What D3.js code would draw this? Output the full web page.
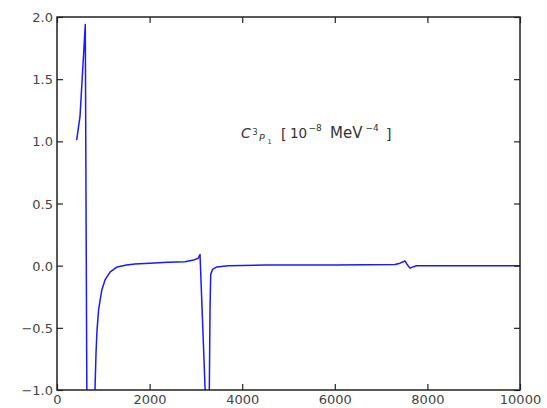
<!DOCTYPE html>
<html>
<head>
<meta charset="utf-8">
<script src="https://cdn.jsdelivr.net/npm/d3@7"></script>
<style>
  html, body { margin: 0; padding: 0; background: #fff; }
  svg { display: block; }
  text { font-family: "DejaVu Sans", sans-serif; }
</style>
</head>
<body>
<svg id="chart" width="547" height="408"></svg>
<script>
// ---- data ----
const energies = [425, 497, 611, 650, 700, 790, 820, 843, 864, 900, 965, 1037, 1150, 1300, 1500, 1685,
  2000, 2400, 2765, 2950, 3050, 3089, 3200, 3240, 3280, 3290, 3305, 3320, 3360, 3450, 3700, 4500,
  6000, 7300, 7408, 7516, 7570, 7624, 7700, 7768, 8500, 10000];
const values = [1.01, 1.2, 1.94, -1.5, -3.0, -1.5, -1.0, -0.7, -0.52, -0.35, -0.2, -0.115, -0.05, -0.01, 0.005, 0.014,
  0.02, 0.027, 0.032, 0.045, 0.06, 0.09, -1.0, -3.0, -3.0, -1.0, -0.35, -0.07, -0.03, -0.01, 0.0, 0.005,
  0.005, 0.01, 0.02, 0.038, 0.005, -0.02, -0.008, 0.0, 0.0, 0.0];
const xTicks = [0, 2000, 4000, 6000, 8000, 10000];
const yTicks = [-1.0, -0.5, 0.0, 0.5, 1.0, 1.5, 2.0];

// ---- layout ----
const svg = d3.select("#chart");
const pL = 57, pR = 520, pT = 17, pB = 390;
const x = d3.scaleLinear().domain([0, 10000]).range([pL, pR]);
const y = d3.scaleLinear().domain([-1, 2]).range([pB, pT]);

svg.append("defs").append("clipPath").attr("id", "clip")
  .append("rect").attr("x", pL).attr("y", pT)
  .attr("width", pR - pL).attr("height", pB - pT);

// line
const pts = energies.map((e, i) => [e, values[i]]);
svg.append("path")
  .datum(pts)
  .attr("clip-path", "url(#clip)")
  .attr("fill", "none")
  .attr("stroke", "#1a1aff")
  .attr("stroke-width", 1.5)
  .attr("stroke-linejoin", "round")
  .attr("d", d3.line().x(d => x(d[0])).y(d => y(d[1])));

// axes (ticks inward on all sides, matplotlib classic)
const tickLen = 6;
const fmtY = d3.format(".1f");
const axisColor = "#222";

const gB = svg.append("g").attr("transform", `translate(0,${pB})`)
  .call(d3.axisBottom(x).tickValues(xTicks).tickSizeInner(-tickLen).tickSizeOuter(0).tickPadding(9).tickFormat(d3.format("d")));
const gT = svg.append("g").attr("transform", `translate(0,${pT})`)
  .call(d3.axisTop(x).tickValues(xTicks).tickSizeInner(-tickLen).tickSizeOuter(0).tickFormat(""));
const gL = svg.append("g").attr("transform", `translate(${pL},0)`)
  .call(d3.axisLeft(y).tickValues(yTicks).tickSizeInner(-tickLen).tickSizeOuter(0).tickPadding(4).tickFormat(fmtY));
const gR = svg.append("g").attr("transform", `translate(${pR},0)`)
  .call(d3.axisRight(y).tickValues(yTicks).tickSizeInner(-tickLen).tickSizeOuter(0).tickFormat(""));

[gB, gT, gL, gR].forEach(g => {
  g.select(".domain").remove();
  g.selectAll(".tick line").attr("stroke", axisColor).attr("stroke-width", 1.2);
  g.selectAll(".tick text").attr("fill", "#444").attr("font-size", 13)
    .attr("font-family", "DejaVu Sans, sans-serif");
});
gB.selectAll(".tick text").attr("dy", null).attr("y", 0).attr("transform", "translate(0,14)");
gL.selectAll(".tick text").attr("x", -4).attr("dy", "0.35em");

// frame
svg.append("rect")
  .attr("x", pL).attr("y", pT)
  .attr("width", pR - pL).attr("height", pB - pT)
  .attr("fill", "none").attr("stroke", axisColor).attr("stroke-width", 1.5);

// annotation label: C_{^3P_1} [10^{-8} MeV^{-4}]
const lab = svg.append("g").attr("fill", "#333");
function t(str, xx, yy, size, italic) {
  lab.append("text").attr("x", xx).attr("y", yy)
    .attr("font-size", size)
    .attr("font-style", italic ? "italic" : "normal")
    .text(str);
}
t("C", 241, 138, 14, true);
t("3", 252.5, 134.5, 8, false);
t("P", 259, 141, 9.5, true);
t("1", 267.5, 144, 6.5, false);
t("[", 281, 139, 14, false);
t("10", 290, 138, 13.5, false);
t("\u22128", 308.5, 131, 9, false);
t("MeV", 330, 138, 15, false);
t("\u22124", 365.5, 131, 9, false);
t("]", 386, 139, 14, false);
</script>
</body>
</html>
